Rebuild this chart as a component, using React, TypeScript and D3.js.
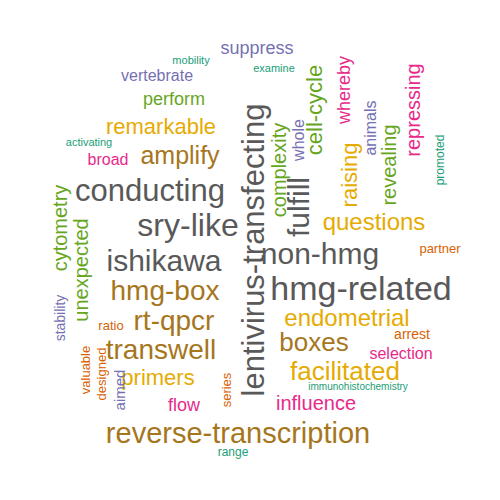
import React from "react";
import * as d3 from "d3";

const words = ["suppress","mobility","examine","vertebrate","perform","remarkable","activating","broad","amplify","conducting","sry-like","questions","ishikawa","non-hmg","partner","hmg-box","hmg-related","rt-qpcr","endometrial","ratio","arrest","transwell","boxes","selection","facilitated","primers","immunohistochemistry","influence","flow","reverse-transcription","range","lentivirus-transfecting","fulfill","complexity","cell-cycle","whole","whereby","raising","animals","revealing","repressing","promoted","cytometry","unexpected","stability","valuable","designed","aimed","series"];
const sizes = [18,11,11,16,18,22,11,16,25,31,32,24,30,30,13,28,34,28,24,13,14,28,26,16,26,22,10,20,18,29,12,31,30,20,22,16,18,22,16,20,20,12,20,20,14,13,13,15,13];
const groups = [2,0,0,2,4,5,0,3,6,7,7,5,7,7,1,6,7,6,5,1,1,6,6,3,5,5,0,3,3,6,0,7,7,4,4,2,3,5,2,4,3,0,4,4,2,1,1,2,1];
const xs = [257,191,274,157,174,161,89,108,180,150,188,374,164,320,440,165,361,174,347,111,412,161,314,401,345,158,358,316,184,238,233,253,298,279,314,298,344,349,370,389,413,440,60,81,60,85,101,119,226];
const ys = [48,60,68,75,99,126,142,159,155,190,225,221,260,253,248,290,288,320,317,325,334,349,342,353,371,377,386,403,405,433,452,250,207,170,110,140,90,175,128,165,110,160,228,270,318,370,374,390,390];
const vertical = [0,0,0,0,0,0,0,0,0,0,0,0,0,0,0,0,0,0,0,0,0,0,0,0,0,0,0,0,0,0,0,1,1,1,1,1,1,1,1,1,1,1,1,1,1,1,1,1,1];
const palette = ["#1B9E77","#D95F02","#7570B3","#E7298A","#66A61E","#E6AB02","#A6761D","#595959"];

export default function App() {
  const color = d3.scaleOrdinal<number, string>().domain(d3.range(8)).range(palette);
  return (
    <svg width={500} height={500} style={{ position: "absolute", left: 0, top: 0 }}>
      <rect width={500} height={500} fill="#fff" />
      {words.map((w, i) => (
        <text key={w} transform={`translate(${xs[i]},${ys[i]}) rotate(${vertical[i] ? -90 : 0})`}
          textAnchor="middle" dominantBaseline="central" fontFamily="Liberation Sans, Arial, sans-serif"
          fontSize={sizes[i]} fill={color(groups[i])}>{w}</text>
      ))}
    </svg>
  );
}
